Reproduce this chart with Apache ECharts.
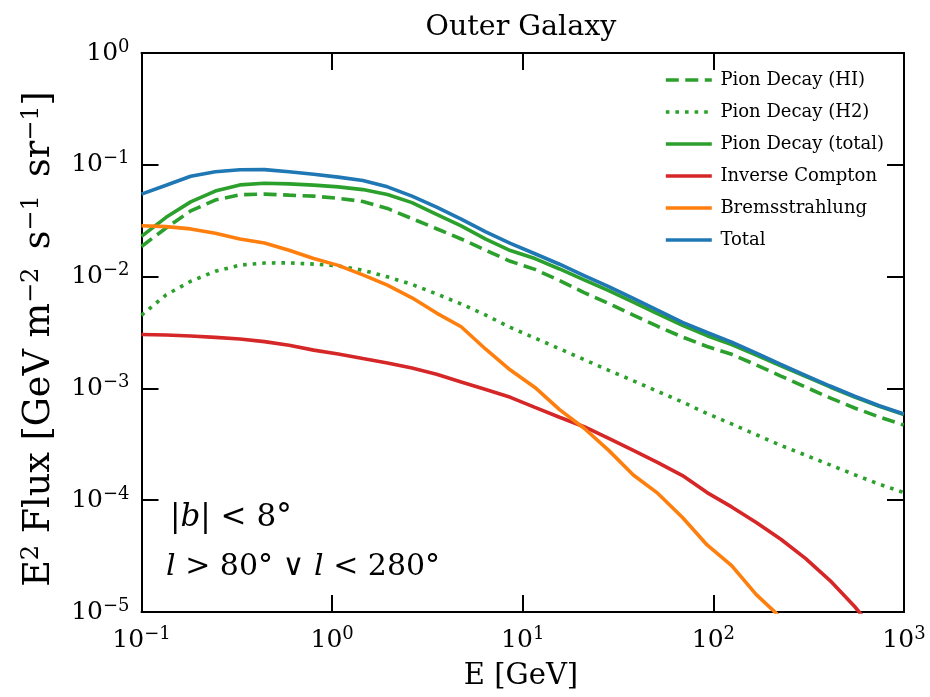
<!DOCTYPE html>
<html>
<head>
<meta charset="utf-8">
<script src="https://cdn.jsdelivr.net/npm/echarts@6/dist/echarts.min.js"></script>
<style>
html,body{margin:0;padding:0;background:#fff;}
#chart{width:930px;height:697px;}
</style>
</head>
<body>
<div id="chart"></div>
<script>
// Energy grid [GeV]
const energy = [0.1, 0.1346, 0.1811, 0.2438, 0.3281, 0.4416, 0.5943, 0.7998, 1.0765, 1.449, 1.950, 2.624, 3.532, 4.753, 6.397, 8.610, 11.588, 15.596, 20.99, 28.25, 38.02, 51.17, 68.87, 92.69, 124.7, 167.9, 225.9, 304.1, 409.3, 550.8, 741.3, 997.7];

// E^2 Flux [GeV m^-2 s^-1 sr^-1]
const pionHI = [0.0186, 0.0272, 0.0387, 0.0484, 0.0540, 0.0547, 0.0535, 0.0525, 0.0501, 0.0470, 0.0407, 0.0330, 0.0268, 0.0217, 0.0172, 0.0137, 0.0116, 0.00923, 0.00719, 0.00575, 0.00452, 0.00358, 0.00288, 0.00237, 0.00202, 0.00162, 0.00129, 0.00103, 0.000822, 0.000668, 0.000555, 0.000470];
const pionH2 = [0.00451, 0.00687, 0.00908, 0.01117, 0.01265, 0.01324, 0.01327, 0.01294, 0.01245, 0.01140, 0.00995, 0.00851, 0.00700, 0.00569, 0.00452, 0.00351, 0.00282, 0.00226, 0.00181, 0.00145, 0.00117, 0.000938, 0.000755, 0.000596, 0.000481, 0.000385, 0.000309, 0.000253, 0.000207, 0.000169, 0.000139, 0.000117];
const pionTotal = [0.0229, 0.0339, 0.0466, 0.0582, 0.0661, 0.0684, 0.0675, 0.0658, 0.0635, 0.0600, 0.0543, 0.0459, 0.0361, 0.0284, 0.0216, 0.0171, 0.0145, 0.0117, 0.00933, 0.00750, 0.00592, 0.00463, 0.00367, 0.00296, 0.00247, 0.00199, 0.00159, 0.00128, 0.00103, 0.000837, 0.000692, 0.000585];
const inverseCompton = [0.00303, 0.00300, 0.00294, 0.00286, 0.00277, 0.00262, 0.00243, 0.00220, 0.00203, 0.00185, 0.00169, 0.00152, 0.00134, 0.00114, 0.000977, 0.000832, 0.000676, 0.000552, 0.000454, 0.000357, 0.000279, 0.000217, 0.000166, 0.000117, 0.0000871, 0.0000631, 0.0000447, 0.0000302, 0.0000191, 0.0000112, 0.00000603, 0.00000316];
const bremsstrahlung = [0.0285, 0.0280, 0.0267, 0.0244, 0.0217, 0.0200, 0.0172, 0.0145, 0.0126, 0.01035, 0.00838, 0.00646, 0.00472, 0.00356, 0.00224, 0.00146, 0.00102, 0.000646, 0.000440, 0.000279, 0.000168, 0.000115, 0.0000700, 0.0000398, 0.0000260, 0.0000143, 0.00000891, 0.00000501];
const total = [0.0547, 0.0656, 0.0789, 0.0867, 0.0904, 0.0906, 0.0867, 0.0822, 0.0776, 0.0724, 0.0635, 0.0525, 0.0419, 0.0327, 0.0251, 0.0198, 0.0160, 0.0129, 0.0102, 0.00813, 0.00638, 0.00498, 0.00389, 0.00316, 0.00259, 0.00207, 0.00164, 0.00131, 0.00105, 0.000851, 0.000700, 0.000590];

const seriesNames = ['Pion Decay (HI)', 'Pion Decay (H2)', 'Pion Decay (total)', 'Inverse Compton', 'Bremsstrahlung', 'Total'];
const xTicks = [0.1, 1, 10, 100, 1000];
const yTicks = [1e-5, 1e-4, 1e-3, 1e-2, 1e-1, 1];

const FONT = 'DejaVu Serif';
const BLACK = '#000';
const LW = 3.6;

function pairs(arr) { return arr.map((v, i) => [energy[i], v]); }

function powLabel(v) {
  const e = Math.round(Math.log10(v));
  const s = e < 0 ? '\u2212' + (-e) : String(e);
  return '{b|10}{s|' + s + '}';
}
const labelRich = {
  b: { fontFamily: FONT, fontSize: 25, color: BLACK, lineHeight: 30 },
  s: { fontFamily: FONT, fontSize: 18, color: BLACK, lineHeight: 18, verticalAlign: 'top' }
};

function lineSeries(name, data, color, type, z) {
  return {
    name: name, type: 'line', data: pairs(data),
    showSymbol: false, symbol: 'none', clip: true, z: z,
    lineStyle: { color: color, width: LW, type: type, cap: 'butt' },
    itemStyle: { color: color },
    emphasis: { disabled: true }
  };
}

const tickStyle = { show: true, inside: true, length: 17, lineStyle: { color: BLACK, width: 2 } };
const lineStyleAx = { show: true, onZero: false, lineStyle: { color: BLACK, width: 2 } };

const chart = echarts.init(document.getElementById('chart'), null, { renderer: 'canvas' });
chart.setOption({
  animation: false,
  backgroundColor: '#fff',
  grid: { left: 141.5, right: 26, top: 53, bottom: 85, containLabel: false },
  legend: {
    orient: 'vertical', left: 659, top: 66,
    itemWidth: 46, itemHeight: 14, itemGap: 14,
    itemStyle: { opacity: 0, borderWidth: 0 },
    lineStyle: { width: LW },
    formatter: function (name) { return '\u2009' + name; },
    textStyle: { fontFamily: FONT, fontSize: 18, color: BLACK },
    data: seriesNames
  },
  xAxis: [
    { type: 'log', logBase: 10, min: xTicks[0], max: xTicks[xTicks.length - 1], position: 'bottom',
      axisLine: lineStyleAx, axisTick: tickStyle, splitLine: { show: false }, minorTick: { show: false },
      axisLabel: { formatter: powLabel, rich: labelRich, margin: 13 } },
    { type: 'log', logBase: 10, min: xTicks[0], max: xTicks[xTicks.length - 1], position: 'top',
      axisLine: lineStyleAx, axisTick: tickStyle, splitLine: { show: false }, axisLabel: { show: false } }
  ],
  yAxis: [
    { type: 'log', logBase: 10, min: yTicks[0], max: yTicks[yTicks.length - 1], position: 'left',
      axisLine: lineStyleAx, axisTick: tickStyle, splitLine: { show: false }, minorTick: { show: false },
      axisLabel: { formatter: powLabel, rich: labelRich, margin: 12 } },
    { type: 'log', logBase: 10, min: yTicks[0], max: yTicks[yTicks.length - 1], position: 'right',
      axisLine: lineStyleAx, axisTick: tickStyle, splitLine: { show: false }, axisLabel: { show: false } }
  ],
  series: [
    lineSeries(seriesNames[0], pionHI, '#2ca02c', [13, 6.5], 3),
    lineSeries(seriesNames[1], pionH2, '#2ca02c', [3.6, 6], 3),
    lineSeries(seriesNames[2], pionTotal, '#2ca02c', 'solid', 3),
    lineSeries(seriesNames[3], inverseCompton, '#d62728', 'solid', 3),
    lineSeries(seriesNames[4], bremsstrahlung, '#ff7f0e', 'solid', 3),
    lineSeries(seriesNames[5], total, '#1f77b4', 'solid', 4)
  ],
  graphic: [
    { type: 'text', x: 521, y: 28, style: { text: 'Outer Galaxy', fontFamily: FONT, fontSize: 28.5, fill: BLACK, align: 'center', verticalAlign: 'middle' } },
    { type: 'text', x: 521, y: 676, style: { text: 'E [GeV]', fontFamily: FONT, fontSize: 29, fill: BLACK, align: 'center', verticalAlign: 'middle' } },
    { type: 'text', x: 40, y: 339, rotation: Math.PI / 2,
      style: {
        text: '{n|E}{s|2}{n| Flux [GeV m}{s|\u22122}{n|\u2002s}{s|\u22121}{n|\u2002sr}{s|\u22121}{n|]}',
        align: 'center', verticalAlign: 'middle',
        rich: {
          n: { fontFamily: FONT, fontSize: 36.5, fill: BLACK, lineHeight: 41 },
          s: { fontFamily: FONT, fontSize: 24, fill: BLACK, lineHeight: 24, verticalAlign: 'top' }
        }
      } },
    { type: 'text', x: 170, y: 518,
      style: {
        text: '{n||}{i|b}{n|| < 8°}',
        align: 'left', verticalAlign: 'middle',
        rich: {
          n: { fontFamily: FONT, fontSize: 31, fill: BLACK },
          i: { fontFamily: FONT, fontSize: 31, fontStyle: 'italic', fill: BLACK }
        }
      } },
    { type: 'text', x: 166, y: 567,
      style: {
        text: '{i|l}{n| > 80° \u2228 }{i|l}{n| < 280°}',
        align: 'left', verticalAlign: 'middle',
        rich: {
          n: { fontFamily: FONT, fontSize: 30, fill: BLACK },
          i: { fontFamily: FONT, fontSize: 30, fontStyle: 'italic', fill: BLACK }
        }
      } }
  ]
});
</script>
</body>
</html>
